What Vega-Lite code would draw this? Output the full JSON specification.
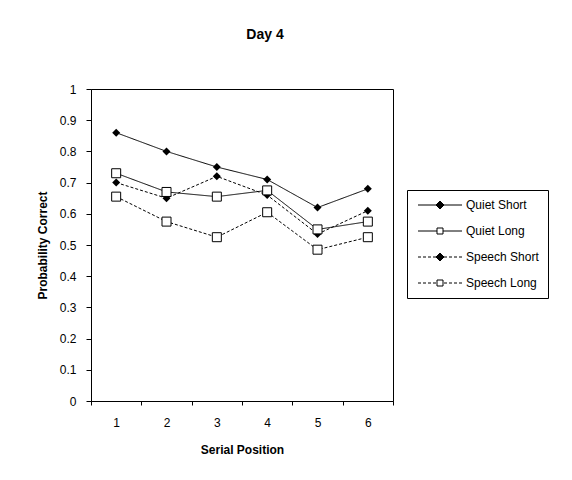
{
  "$schema": "https://vega.github.io/schema/vega-lite/v6.json",
  "width": 302,
  "height": 312,
  "autosize": {"type": "none"},
  "padding": {"left": 91, "top": 89, "right": 179, "bottom": 79},
  "background": "white",
  "title": {"text": "Day 4", "font": "Liberation Sans", "fontSize": 14, "fontWeight": "bold", "color": "black", "anchor": "middle", "dx": 23, "offset": 41},
  "config": {
    "view": {"stroke": "black", "strokeWidth": 1},
    "font": "Liberation Sans",
    "axis": {"domainColor": "black", "tickColor": "black", "labelColor": "black", "titleColor": "black", "labelFont": "Liberation Sans", "titleFont": "Liberation Sans", "labelFontSize": 12, "titleFontSize": 12, "titleFontWeight": "bold", "grid": false}
  },
  "data": {"values": [
    {"series": "Quiet Short", "pos": 1, "p": 0.86},
    {"series": "Quiet Short", "pos": 2, "p": 0.80},
    {"series": "Quiet Short", "pos": 3, "p": 0.75},
    {"series": "Quiet Short", "pos": 4, "p": 0.71},
    {"series": "Quiet Short", "pos": 5, "p": 0.62},
    {"series": "Quiet Short", "pos": 6, "p": 0.68},
    {"series": "Quiet Long", "pos": 1, "p": 0.73},
    {"series": "Quiet Long", "pos": 2, "p": 0.67},
    {"series": "Quiet Long", "pos": 3, "p": 0.655},
    {"series": "Quiet Long", "pos": 4, "p": 0.675},
    {"series": "Quiet Long", "pos": 5, "p": 0.55},
    {"series": "Quiet Long", "pos": 6, "p": 0.575},
    {"series": "Speech Short", "pos": 1, "p": 0.70},
    {"series": "Speech Short", "pos": 2, "p": 0.65},
    {"series": "Speech Short", "pos": 3, "p": 0.72},
    {"series": "Speech Short", "pos": 4, "p": 0.66},
    {"series": "Speech Short", "pos": 5, "p": 0.535},
    {"series": "Speech Short", "pos": 6, "p": 0.61},
    {"series": "Speech Long", "pos": 1, "p": 0.655},
    {"series": "Speech Long", "pos": 2, "p": 0.575},
    {"series": "Speech Long", "pos": 3, "p": 0.525},
    {"series": "Speech Long", "pos": 4, "p": 0.605},
    {"series": "Speech Long", "pos": 5, "p": 0.485},
    {"series": "Speech Long", "pos": 6, "p": 0.525}
  ]},
  "encoding": {
    "x": {"field": "pos", "type": "ordinal", "title": "Serial Position",
      "scale": {"type": "band", "paddingInner": 0, "paddingOuter": 0},
      "axis": {"labelAngle": 0, "tickBand": "extent", "tickSize": 4, "labelPadding": 12, "titlePadding": 16}},
    "y": {"field": "p", "type": "quantitative", "title": "Probability Correct",
      "scale": {"domain": [0, 1], "nice": false, "zero": true},
      "axis": {"values": [0, 0.1, 0.2, 0.3, 0.4, 0.5, 0.6, 0.7, 0.8, 0.9, 1], "format": "~g", "tickSize": 5, "labelPadding": 10, "titlePadding": 10}}
  },
  "layer": [
    {
      "mark": {"type": "line", "color": "black", "strokeWidth": 1},
      "encoding": {
        "strokeDash": {"field": "series", "type": "nominal", "legend": null,
          "scale": {"range": [[1, 0], [1, 0], [3, 2], [3, 2]]}}
      }
    },
    {
      "transform": [{"filter": "indexof(datum.series, 'Short') >= 0"}],
      "mark": {"type": "point", "shape": "diamond", "filled": true, "color": "black", "size": 64, "opacity": 1}
    },
    {
      "transform": [{"filter": "indexof(datum.series, 'Long') >= 0"}],
      "mark": {"type": "point", "shape": "square", "filled": true, "fill": "white", "stroke": "black", "strokeWidth": 1, "size": 81, "opacity": 1}
    },
    {
      "transform": [{"filter": "datum.pos > 99"}],
      "mark": {"type": "point", "filled": true, "strokeWidth": 1, "size": 64, "opacity": 1},
      "encoding": {
        "shape": {"field": "series", "type": "nominal",
          "scale": {"domain": ["Quiet Short", "Quiet Long", "Speech Short", "Speech Long"],
            "range": [
              "M-1,0L3.5,0M5.5,0L10,0M4.5,-1L5.5,0L4.5,1L3.5,0Z",
              "M-1,0L3.75,0M5.25,0L10,0M3.75,-0.75L5.25,-0.75L5.25,0.75L3.75,0.75Z",
              "M-1,0L-0.25,0M0.25,0L1,0M1.5,0L2.25,0M2.75,0L3.5,0M5.5,0L6.25,0M6.75,0L7.5,0M8,0L8.75,0M9.25,0L10,0M4.5,-1L5.5,0L4.5,1L3.5,0Z",
              "M-1,0L-0.25,0M0.25,0L1,0M1.5,0L2.25,0M2.75,0L3.5,0M5.5,0L6.25,0M6.75,0L7.5,0M8,0L8.75,0M9.25,0L10,0M3.75,-0.75L5.25,-0.75L5.25,0.75L3.75,0.75Z"
            ]},
          "legend": {"title": null, "orient": "none", "legendX": 316, "legendY": 101, "strokeColor": "black", "padding": 9, "labelFont": "Liberation Sans", "labelFontSize": 12, "labelColor": "black", "labelOffset": 38, "rowPadding": 14, "symbolSize": 64, "symbolStrokeColor": "black", "symbolStrokeWidth": 1, "symbolOpacity": 1}},
        "fill": {"field": "series", "type": "nominal",
          "scale": {"domain": ["Quiet Short", "Quiet Long", "Speech Short", "Speech Long"], "range": ["black", "white", "black", "white"]},
          "legend": {"title": null, "orient": "none", "legendX": 316, "legendY": 101, "strokeColor": "black", "padding": 9, "labelFont": "Liberation Sans", "labelFontSize": 12, "labelColor": "black", "labelOffset": 38, "rowPadding": 14, "symbolSize": 64, "symbolStrokeColor": "black", "symbolStrokeWidth": 1, "symbolOpacity": 1}},
        "stroke": {"field": "series", "type": "nominal",
          "scale": {"domain": ["Quiet Short", "Quiet Long", "Speech Short", "Speech Long"], "range": ["black", "black", "black", "black"]},
          "legend": {"title": null, "orient": "none", "legendX": 316, "legendY": 101, "strokeColor": "black", "padding": 9, "labelFont": "Liberation Sans", "labelFontSize": 12, "labelColor": "black", "labelOffset": 38, "rowPadding": 14, "symbolSize": 64, "symbolStrokeColor": "black", "symbolStrokeWidth": 1, "symbolOpacity": 1}}
      }
    }
  ]
}
